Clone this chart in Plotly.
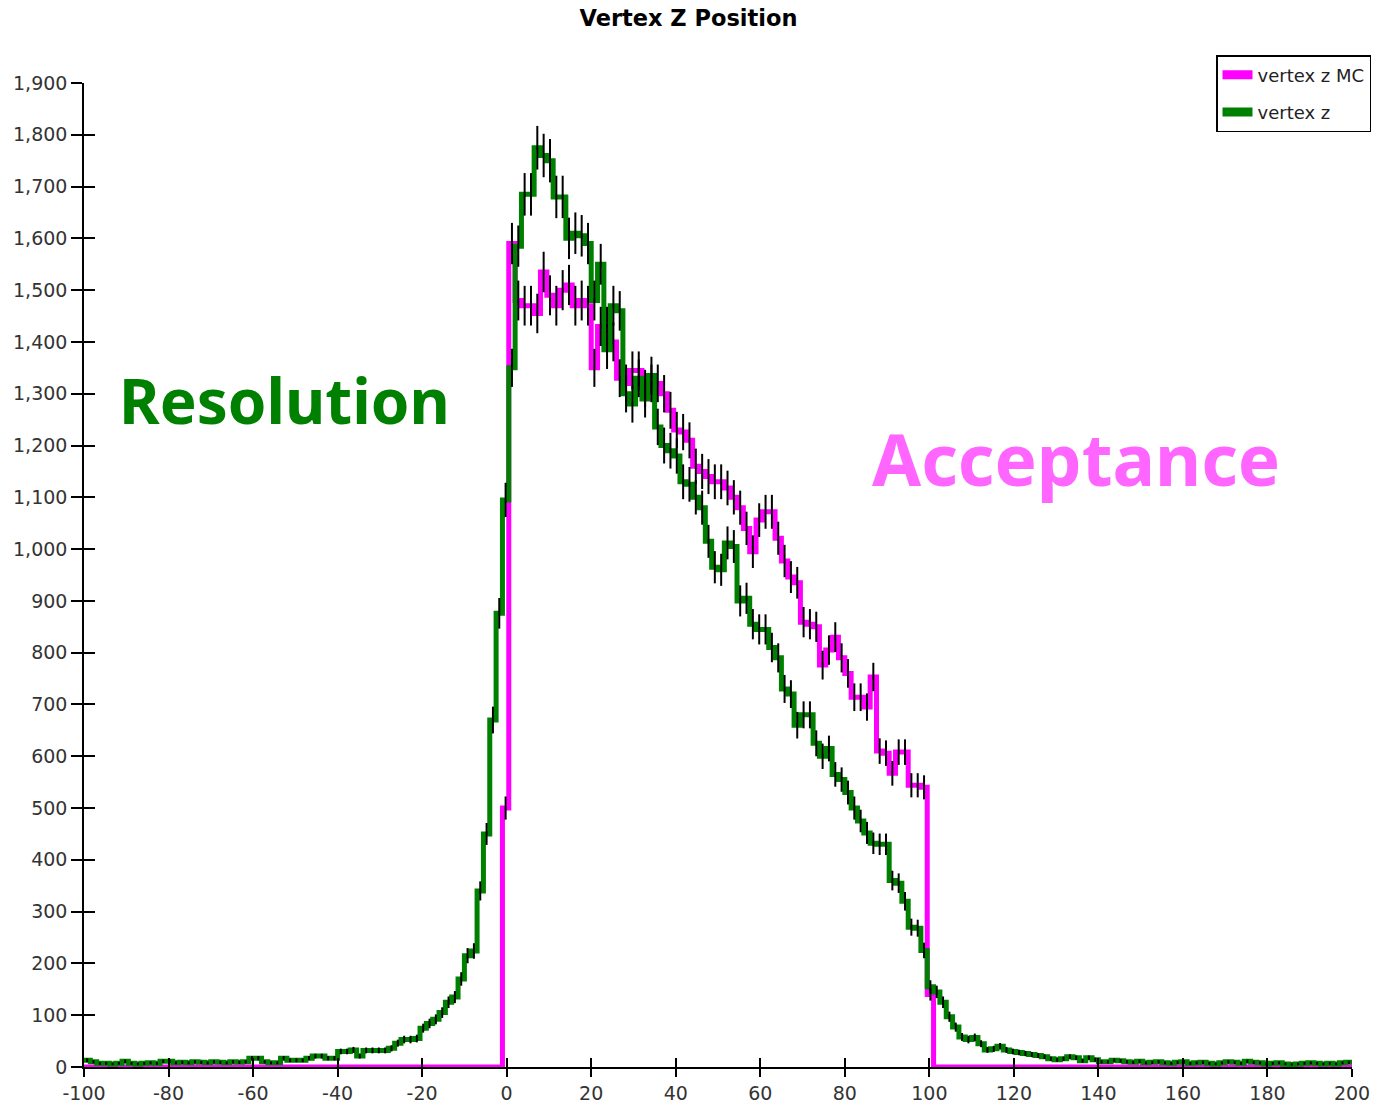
import numpy as np
import plotly.graph_objects as go

TITLE = "Vertex Z Position"
BIN_LOW, BIN_HIGH, N_BINS = -100.0, 200.0, 200

# reconstructed vertex z (green), one value per 1.5-unit bin from -100 to 200
vertex_z = [
    13, 10, 7, 7, 6, 7, 11, 7, 6, 7,
    8, 7, 11, 11, 8, 9, 8, 10, 9, 8,
    10, 9, 8, 10, 9, 10, 17, 17, 10, 8,
    8, 17, 13, 13, 13, 17, 21, 21, 17, 17,
    30, 30, 33, 21, 32, 32, 32, 32, 36, 46,
    53, 53, 55, 75, 84, 92, 105, 125, 135, 170,
    215, 224, 340, 450, 670, 876, 1095, 1350, 1585, 1685,
    1685, 1775, 1760, 1750, 1680, 1680, 1600, 1610, 1605, 1590,
    1480, 1550, 1385, 1470, 1460, 1300, 1280, 1330, 1290, 1335,
    1236, 1200, 1190, 1180, 1130, 1125, 1100, 1080, 1015, 965,
    960, 1012, 1005, 900, 905, 855, 845, 845, 810, 790,
    730, 720, 660, 680, 680, 625, 600, 615, 565, 555,
    530, 500, 475, 452, 432, 430, 430, 360, 355, 320,
    270, 268, 225, 155, 145, 125, 97, 77, 58, 53,
    57, 45, 33, 35, 40, 33, 30, 28, 26, 24,
    22, 20, 16, 14, 16, 20, 18, 12, 18, 14,
    10, 10, 13, 12, 10, 9, 11, 8, 9, 10,
    8, 7, 9, 10, 7, 8, 9, 7, 6, 8,
    10, 9, 7, 11, 9, 8, 6, 7, 8, 6,
    5, 6, 7, 8, 7, 6, 7, 6, 8, 9,
]

# MC truth (magenta): non-zero only between -1 and 101 (bins 66..133)
MC_FIRST_BIN = 66
vertex_z_mc_nonzero = [
    500, 1590, 1480, 1470,
    1470, 1455, 1535, 1490, 1470, 1500, 1510, 1470, 1480, 1470,
    1350, 1430, 1430, 1400, 1330, 1320, 1345, 1345, 1310, 1320,
    1320, 1300, 1268, 1230, 1226, 1210, 1160, 1150, 1140, 1130,
    1130, 1118, 1100, 1080, 1040, 995, 1056, 1072, 1072, 1021,
    977, 946, 935, 859, 855, 850, 776, 805, 830, 790,
    760, 714, 714, 695, 753, 610, 606, 567, 608, 608,
    544, 544, 540, 140,
]

x_ticks = list(range(-100, 201, 20))
x_tick_labels = [str(v) for v in x_ticks]
y_ticks = list(range(0, 1901, 100))

GREEN = "#008000"
MAGENTA = "#FF00FF"

edges = np.linspace(BIN_LOW, BIN_HIGH, N_BINS + 1)
centers = 0.5 * (edges[:-1] + edges[1:])
green = np.array(vertex_z, dtype=float)
mc = np.zeros(N_BINS)
mc[MC_FIRST_BIN:MC_FIRST_BIN + len(vertex_z_mc_nonzero)] = vertex_z_mc_nonzero


def step_xy(vals):
    return edges, np.append(vals, vals[-1])


fig = go.Figure()
sx, sy = step_xy(mc)
fig.add_trace(go.Scatter(x=sx, y=sy, mode="lines", line=dict(shape="hv", color=MAGENTA, width=5),
                         showlegend=False, hoverinfo="skip"))
sx, sy = step_xy(green)
fig.add_trace(go.Scatter(x=sx, y=sy, mode="lines", line=dict(shape="hv", color=GREEN, width=5),
                         showlegend=False, hoverinfo="skip"))
for vals in (mc, green):
    fig.add_trace(go.Scatter(x=centers, y=vals, mode="markers",
                             marker=dict(size=2, color="rgba(0,0,0,0)"),
                             error_y=dict(type="sqrt", color="black", thickness=2, width=0),
                             showlegend=False, hoverinfo="skip"))

# legend-only entries
fig.add_trace(go.Scatter(x=[None], y=[None], mode="lines", name="vertex z MC",
                         line=dict(color=MAGENTA, width=9), legendgroup="a"))
fig.add_trace(go.Scatter(x=[None], y=[None], mode="lines", name="vertex z",
                         line=dict(color=GREEN, width=9), legendgroup="b"))

# overlay axes to get ticks crossing the axis lines
fig.add_trace(go.Scatter(x=[None], y=[None], xaxis="x2", yaxis="y2", showlegend=False, hoverinfo="skip"))

TICKFONT = dict(family="DejaVu Sans", size=19, color="#333")
fig.update_layout(
    width=1377, height=1106,
    paper_bgcolor="white", plot_bgcolor="white",
    margin=dict(l=84, r=25, t=83, b=39, autoexpand=False),
    title=dict(text="<b>" + TITLE + "</b>", x=0.5, xref="container", y=1 - 18 / 1106,
               yref="container", yanchor="middle", xanchor="center",
               font=dict(family="DejaVu Sans", size=22.5, color="black")),
    xaxis=dict(range=[BIN_LOW, BIN_HIGH], tickvals=x_ticks, ticktext=x_tick_labels,
               ticks="outside", ticklen=8, automargin=False,
               tickwidth=1.5, tickcolor="black", showline=True, linecolor="black", linewidth=1.5,
               showgrid=False, zeroline=False, tickfont=TICKFONT, layer="below traces"),
    yaxis=dict(range=[0, 1900], tickvals=y_ticks, tickformat=",d", ticks="outside", ticklen=11,
               automargin=False,
               tickwidth=1.5, tickcolor="black", showline=True, linecolor="black", linewidth=1.5,
               showgrid=False, zeroline=False, tickfont=TICKFONT, layer="below traces"),
    xaxis2=dict(range=[BIN_LOW, BIN_HIGH], overlaying="x", tickvals=x_ticks, ticks="inside", ticklen=9,
                tickwidth=1.5, tickcolor="black", showticklabels=False, showgrid=False,
                zeroline=False, showline=False, anchor="y2", side="bottom", automargin=False),
    yaxis2=dict(range=[0, 1900], overlaying="y", tickvals=y_ticks, ticks="inside", ticklen=11,
                tickwidth=1.5, tickcolor="black", showticklabels=False, showgrid=False,
                zeroline=False, showline=False, anchor="x2", side="left", automargin=False),
    legend=dict(x=(1216 - 84) / 1268, y=(1067 - 55) / 984, xanchor="left", yanchor="top",
                bordercolor="black", borderwidth=1.5, bgcolor="white",
                font=dict(family="DejaVu Sans", size=18, color="#222"),
                itemwidth=30, traceorder="grouped", tracegroupgap=11),
    annotations=[
        dict(text="<b>Resolution</b>", x=(284 - 84) / 1268, y=(1067 - 400) / 984,
             xref="paper", yref="paper", showarrow=False, xanchor="center", yanchor="middle",
             font=dict(family="Noto Sans", size=62, color=GREEN)),
        dict(text="<b>Acceptance</b>", x=(1076 - 84) / 1268, y=(1067 - 458) / 984,
             xref="paper", yref="paper", showarrow=False, xanchor="center", yanchor="middle",
             font=dict(family="Noto Sans", size=71, color="#FF66FF")),
    ],
)

fig.write_html("out.html")
